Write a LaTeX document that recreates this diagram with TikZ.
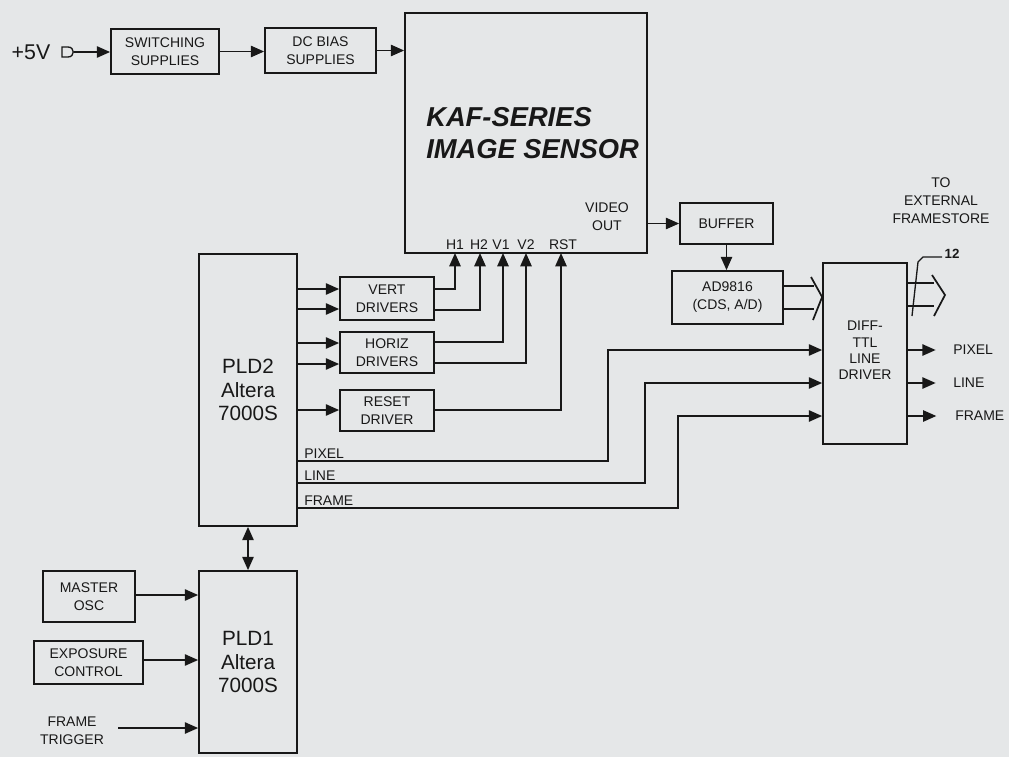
\documentclass[tikz,border=0pt]{standalone}
\usepackage{fontspec}
\setmainfont{Liberation Sans}
\usetikzlibrary{arrows.meta,fit,calc}
\definecolor{bg}{RGB}{229,231,232}
\definecolor{ink}{RGB}{24,24,24}
\newcommand\lblfont{\fontsize{10.5}{13.5}\selectfont}
\newcommand\pldfont{\fontsize{15.5}{17.5}\selectfont}
\begin{document}
\begin{tikzpicture}[x=0.75pt,y=-0.75pt,
  box/.style={draw=ink, line width=1.3pt, inner sep=0pt},
  lbl/.style={font=\lblfont, text=ink, inner sep=0pt, align=center},
  ln/.style={draw=ink, line width=1.3pt},
  arr/.style={ln, -{Triangle[length=10pt,width=8.5pt]}},
  dblarr/.style={ln, {Triangle[length=10pt,width=8.5pt]}-{Triangle[length=10pt,width=8.5pt]}}
]
\fill[bg] (0,0) rectangle (1009,757);
\useasboundingbox (0,0) rectangle (1009,757);

% power chain
\node[lbl, font=\fontsize{16}{18}\selectfont] (v5) at (31,52) {+5V};
\draw[ln, line width=1pt] (62,47) -- (68,47) .. controls (75,47) and (75,57) .. (68,57) -- (62,57) -- cycle;
\coordinate (term) at (74,52);
\node[box, fit={(111,29)(219,74)}] (sw) {};
\node[lbl] (swt) at (sw) {SWITCHING\\SUPPLIES};
\node[box, fit={(265,28)(376,73)}] (dc) {};
\node[lbl] (dct) at (dc) {DC BIAS\\SUPPLIES};

% sensor
\node[box, fit={(405,13)(647,253)}] (sensor) {};
\node[anchor=west, inner sep=0pt, align=left, text=ink, font=\bfseries\itshape\fontsize{20.5}{23.5}\selectfont] (kaf) at (426,133) {KAF-SERIES\\IMAGE SENSOR};
\node[lbl] (vo) at (607,217) {VIDEO\\OUT};
\node[lbl] (lH1) at (455,245) {H1};
\node[lbl] (lH2) at (479,245) {H2};
\node[lbl] (lV1) at (501,245) {V1};
\node[lbl] (lV2) at (526,245) {V2};
\node[lbl] (lRST) at (563,245) {RST};
\coordinate (pH1) at (455,253);
\coordinate (pH2) at (480,253);
\coordinate (pV1) at (503,253);
\coordinate (pV2) at (526,253);
\coordinate (pRST) at (561,253);

% video chain
\node[box, fit={(680,203)(773,244)}] (buf) {};
\node[lbl] (buft) at (buf) {BUFFER};
\node[box, fit={(672,271)(783,324)}] (ad) {};
\node[lbl] (adt) at (ad) {AD9816\\(CDS, A/D)};
\node[box, fit={(823,263)(907,444)}] (diff) {};
\node[lbl, font=\fontsize{10.5}{12.2}\selectfont] (difft) at ($(diff)+(0,-3)$) {DIFF-\\TTL\\LINE\\DRIVER};
\node[lbl] (ext) at (941,201) {TO\\EXTERNAL\\FRAMESTORE};
\node[lbl, font=\bfseries\fontsize{10}{12}\selectfont] (n12) at (952,254) {12};
\node[lbl, anchor=west] (opix) at (953,350) {PIXEL};
\node[lbl, anchor=west] (oline) at (953,383) {LINE};
\node[lbl, anchor=west] (oframe) at (955,416) {FRAME};

% drivers
\node[box, fit={(340,277)(434,320)}] (vert) {};
\node[lbl] (vertt) at (vert) {VERT\\DRIVERS};
\node[box, fit={(340,332)(434,373)}] (horiz) {};
\node[lbl] (horizt) at (horiz) {HORIZ\\DRIVERS};
\node[box, fit={(340,390)(434,431)}] (reset) {};
\node[lbl] (resett) at (reset) {RESET\\DRIVER};

% PLDs
\node[box, fit={(199,254)(297,526)}] (pld2) {};
\node[lbl, font=\pldfont] (pld2t) at (pld2) {PLD2\\Altera\\7000S};
\node[box, fit={(199,571)(297,753)}] (pld1) {};
\node[lbl, font=\pldfont] (pld1t) at (pld1) {PLD1\\Altera\\7000S};
\node[lbl, anchor=south west] (lpix) at (304,459) {PIXEL};
\node[lbl, anchor=south west] (lline) at (304,481) {LINE};
\node[lbl, anchor=south west] (lframe) at (304,506) {FRAME};

% inputs to PLD1
\node[box, fit={(43,571)(135,622)}] (master) {};
\node[lbl] (mastert) at (master) {MASTER\\OSC};
\node[box, fit={(34,641)(143,684)}] (expo) {};
\node[lbl] (expot) at (expo) {EXPOSURE\\CONTROL};
\node[lbl] (ft) at (72,731) {FRAME\\TRIGGER};
\coordinate (ftend) at (118,728);

% connectors: power
\draw[arr] (term) -- (term -| sw.west);
\draw[arr] (sw.east) -- (sw.east -| dc.west);
\draw[arr] (dc.east) -- (dc.east -| sensor.west);

% PLD2 -> drivers
\draw[arr] (pld2.east |- 0,289) -- (vert.west |- 0,289);
\draw[arr] (pld2.east |- 0,309) -- (vert.west |- 0,309);
\draw[arr] (pld2.east |- 0,343) -- (horiz.west |- 0,343);
\draw[arr] (pld2.east |- 0,364) -- (horiz.west |- 0,364);
\draw[arr] (pld2.east |- 0,410) -- (reset.west |- 0,410);

% drivers -> sensor pins
\draw[arr] (vert.east |- 0,289) -| (pH1);
\draw[arr] (vert.east |- 0,310) -| (pH2);
\draw[arr] (horiz.east |- 0,342) -| (pV1);
\draw[arr] (horiz.east |- 0,363) -| (pV2);
\draw[arr] (reset.east |- 0,410) -| (pRST);

% timing lines to DIFF driver
\draw[arr] (pld2.east |- 0,461) -- (608,461) -- (608,350) -- (diff.west |- 0,350);
\draw[arr] (pld2.east |- 0,483) -- (645,483) -- (645,383) -- (diff.west |- 0,383);
\draw[arr] (pld2.east |- 0,508) -- (678,508) -- (678,416) -- (diff.west |- 0,416);

% video path
\draw[arr] (sensor.east |- buf.west) -- (buf.west);
\draw[arr] (buf.south) -- (buf.south |- ad.north);

% bus AD -> DIFF
\draw[ln] (ad.east |- 0,286) -- (814,286);
\draw[ln] (ad.east |- 0,309) -- (814,309);
\draw[ln] (811,277) -- (diff.west |- 0,297) -- (813,320);

% bus out
\draw[ln] (diff.east |- 0,283) -- (934,283);
\draw[ln] (diff.east |- 0,306) -- (934,306);
\draw[ln] (932,275) -- (945,295) -- (934,316);
\draw[ln, line width=1pt] (912,316) -- (918,262) -- (923,257) -- (942,257);

% DIFF outputs
\draw[arr] (diff.east |- opix.west) -- ([xshift=-13pt]opix.west);
\draw[arr] (diff.east |- oline.west) -- ([xshift=-13pt]oline.west);
\draw[arr] (diff.east |- oframe.west) -- ([xshift=-14pt]oframe.west);

% PLD2 <-> PLD1
\draw[dblarr] (pld2.south) -- (pld1.north);

% inputs to PLD1
\draw[arr] (master.east |- 0,595) -- (pld1.west |- 0,595);
\draw[arr] (expo.east |- 0,660) -- (pld1.west |- 0,660);
\draw[arr] (ftend) -- (pld1.west |- ftend);
\end{tikzpicture}
\end{document}
